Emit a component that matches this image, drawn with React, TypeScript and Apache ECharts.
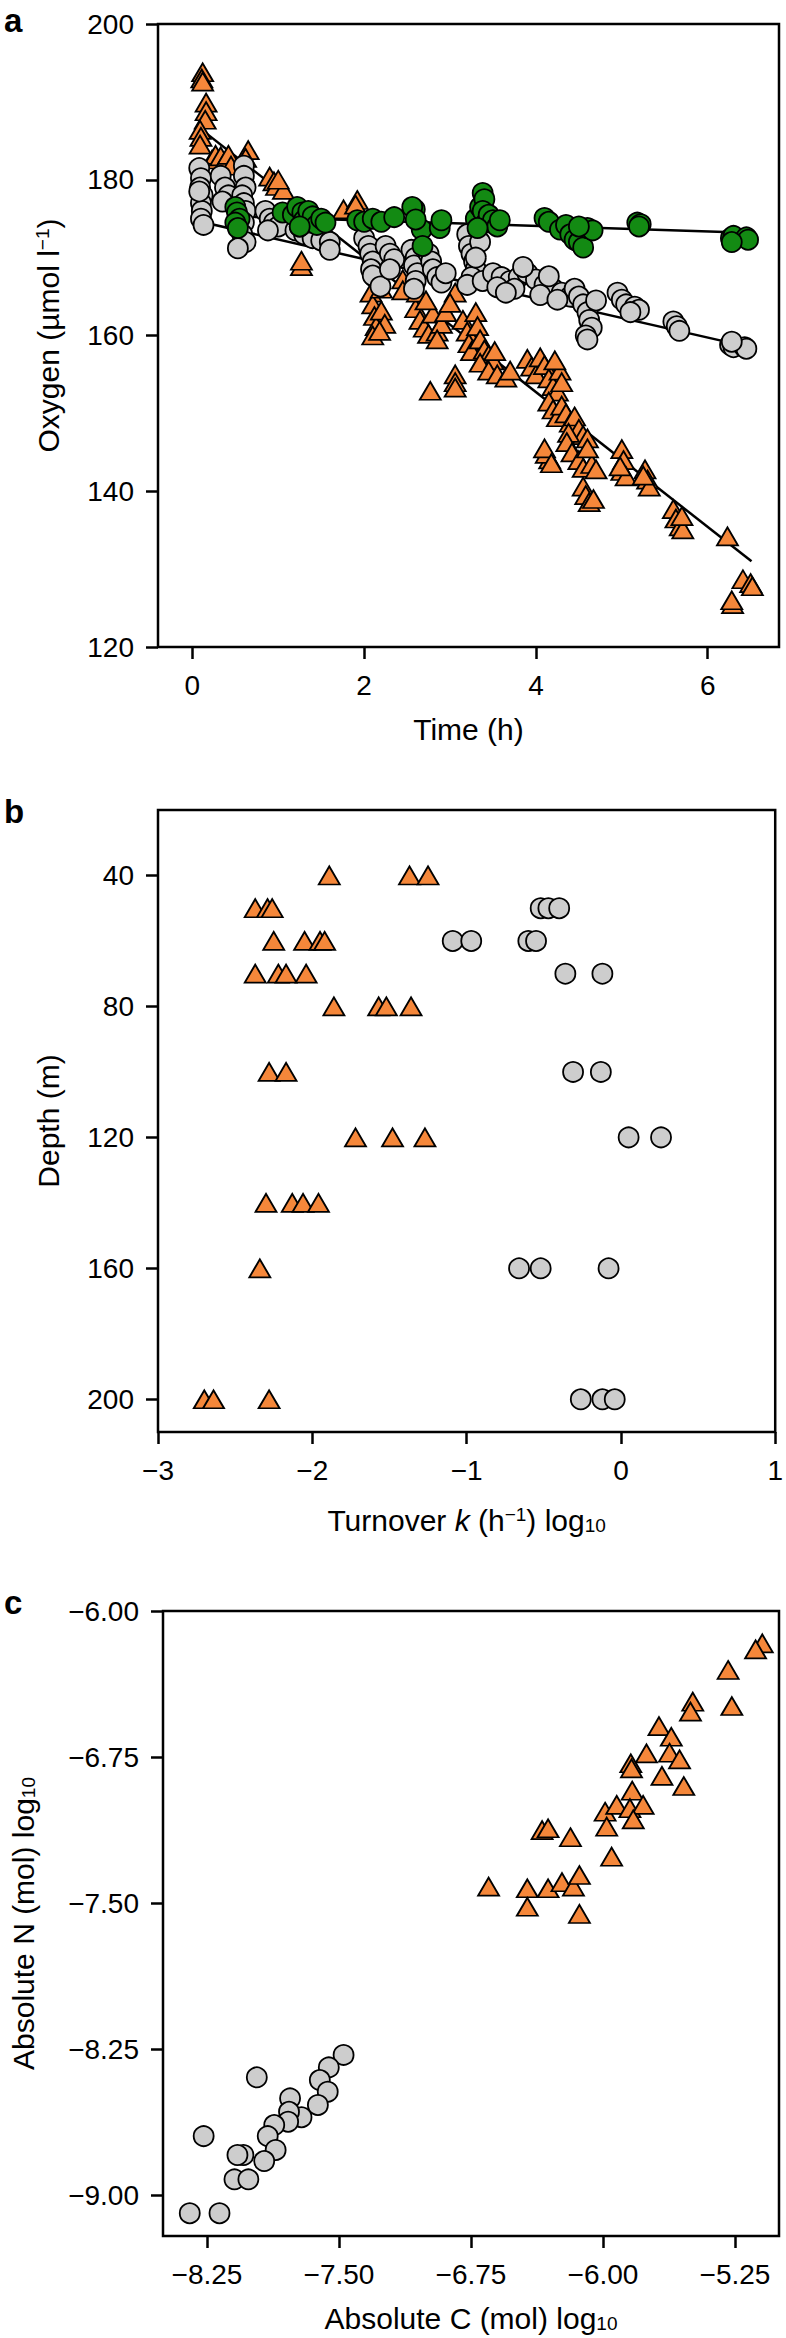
import React, { useEffect, useRef } from 'react';
import * as echarts from 'echarts';

// ---------- Panel a: oxygen vs time ----------
const timeTicks = [0, 2, 4, 6];
const oxygenTicks = [120, 140, 160, 180, 200];

const oxyOrange = [
  [0.12, 193.8], [0.11, 193.0], [0.12, 192.6], [0.16, 189.9], [0.16, 188.8], [0.15, 187.7], [0.09, 186.4], [0.10, 185.5], [0.09, 184.5],
  [0.23, 182.6], [0.27, 183.2], [0.33, 183.0], [0.37, 182.2], [0.42, 183.2], [0.45, 181.8], [0.65, 183.8], [0.62, 182.8],
  [0.90, 180.4], [0.95, 179.8], [0.98, 179.2], [1.06, 178.7], [1.00, 180.0],
  [1.27, 168.9], [1.27, 169.6],
  [1.76, 176.2], [1.92, 177.4], [1.90, 176.8],
  [2.08, 165.5], [2.10, 164.0], [2.12, 162.5], [2.14, 161.2], [2.10, 160.0], [2.20, 163.2], [2.24, 161.5], [2.18, 160.6], [2.20, 166.0],
  [2.45, 167.2], [2.45, 165.8],
  [2.60, 163.5], [2.65, 162.0], [2.70, 161.0], [2.75, 160.2], [2.80, 162.8], [2.85, 160.5], [2.90, 161.5], [2.62, 165.5], [2.72, 164.5], [2.95, 163.0], [3.06, 165.5], [3.00, 164.2], [2.85, 159.5],
  [3.15, 162.0], [3.20, 160.5], [3.22, 159.0], [3.25, 158.0], [3.30, 163.0], [3.32, 161.2], [3.35, 159.5], [3.40, 158.2], [3.45, 157.5], [3.50, 156.8], [3.52, 158.0],
  [3.35, 156.5], [3.45, 155.5], [3.55, 155.0], [3.65, 154.6], [3.70, 155.5],
  [3.90, 157.0], [3.95, 156.0], [4.00, 155.0], [4.05, 157.2], [4.10, 156.2], [4.15, 154.5], [4.20, 153.5], [4.25, 152.8], [4.28, 155.5], [4.30, 154.0], [4.22, 156.8],
  [2.77, 152.9], [3.06, 155.0], [3.06, 154.0], [3.06, 153.3],
  [4.15, 151.5], [4.20, 150.5], [4.25, 149.5], [4.30, 151.0], [4.35, 150.0], [4.40, 148.8], [4.45, 149.6], [4.50, 148.0], [4.55, 147.2], [4.60, 146.8], [4.38, 147.5],
  [4.16, 144.1], [4.12, 144.8], [4.10, 145.5], [4.18, 143.6],
  [4.36, 146.3], [4.42, 145.0], [4.50, 144.0], [4.55, 143.0], [4.65, 143.5], [4.70, 142.8], [4.60, 145.5],
  [4.55, 140.6], [4.58, 139.5], [4.62, 138.6], [4.67, 139.0],
  [5.00, 145.4], [5.02, 144.0], [5.00, 142.6], [5.05, 141.9], [4.98, 143.2],
  [5.27, 142.8], [5.30, 141.5], [5.32, 140.6], [5.25, 142.0],
  [5.60, 137.7], [5.63, 136.5], [5.68, 135.5], [5.71, 135.1], [5.70, 136.8],
  [6.23, 134.2],
  [6.41, 128.7], [6.50, 128.2], [6.52, 127.8],
  [6.29, 125.5], [6.28, 126.0],
];

const oxyGrey = [
  [0.08, 181.5], [0.10, 180.2], [0.09, 179.0], [0.12, 178.0], [0.10, 177.0], [0.11, 176.0], [0.10, 175.0], [0.13, 174.2], [0.08, 178.5],
  [0.33, 180.5], [0.38, 179.0], [0.42, 178.0], [0.35, 177.2],
  [0.60, 181.8], [0.60, 180.5], [0.62, 179.0], [0.58, 178.0], [0.60, 177.0], [0.62, 176.0], [0.60, 174.5], [0.58, 173.0], [0.62, 172.0], [0.53, 171.2],
  [0.85, 176.0], [0.90, 175.0], [0.95, 174.5], [1.00, 174.0], [0.88, 173.5],
  [1.20, 173.5], [1.30, 173.0], [1.40, 172.5], [1.50, 172.2], [1.60, 172.0], [1.35, 174.5], [1.25, 174.0], [1.60, 171.0],
  [2.00, 172.5], [2.05, 171.5], [2.07, 170.5], [2.10, 169.5], [2.08, 168.5], [2.12, 167.5], [2.10, 167.7], [2.19, 166.3],
  [2.25, 171.5], [2.30, 170.5], [2.35, 169.8], [2.30, 168.5],
  [2.55, 171.0], [2.60, 170.0], [2.58, 169.0], [2.62, 168.0], [2.60, 167.0], [2.58, 166.0],
  [2.75, 170.5], [2.78, 169.5], [2.80, 168.5], [2.85, 167.5], [2.90, 166.8], [2.95, 168.0],
  [3.20, 173.0], [3.22, 171.5], [3.25, 170.5], [3.28, 169.5], [3.30, 168.5], [3.25, 167.5], [3.20, 166.5], [3.35, 172.0], [3.30, 170.0], [3.38, 167.0],
  [3.50, 168.0], [3.60, 167.5], [3.70, 167.0], [3.80, 167.5], [3.90, 168.0], [4.00, 167.2], [4.10, 166.5], [4.20, 166.0], [4.30, 165.5], [4.40, 165.0],
  [3.55, 166.2], [3.75, 166.0], [4.05, 165.2], [4.25, 164.6], [3.65, 165.5], [3.85, 168.8], [4.15, 167.6],
  [4.45, 166.0], [4.50, 165.0], [4.55, 164.0], [4.60, 163.0], [4.62, 162.0], [4.65, 161.0], [4.58, 160.0], [4.60, 159.5], [4.70, 164.5],
  [4.95, 165.5], [5.00, 164.6], [5.05, 164.0], [5.15, 163.7], [5.20, 163.3], [5.10, 163.0],
  [5.60, 161.8], [5.64, 161.2], [5.67, 160.6],
  [6.26, 158.8], [6.30, 158.5], [6.43, 158.5], [6.45, 158.3], [6.28, 159.2],
];

const oxyGreen = [
  [0.50, 176.5], [0.52, 175.8], [0.55, 175.0], [0.50, 174.5], [0.53, 173.8],
  [1.05, 175.8], [1.17, 175.5], [1.22, 176.5], [1.28, 175.8], [1.30, 174.8], [1.35, 176.0], [1.40, 175.3], [1.45, 174.2], [1.50, 175.0], [1.55, 174.5], [1.25, 174.0],
  [1.92, 174.8], [2.00, 174.6], [2.10, 175.0], [2.20, 174.6], [2.35, 175.2], [2.59, 176.2], [2.56, 176.5], [2.67, 173.6], [2.68, 171.5], [2.60, 174.9], [2.88, 173.8], [2.90, 174.8],
  [3.30, 175.0], [3.35, 176.5], [3.38, 178.3], [3.40, 177.5], [3.38, 176.0], [3.42, 174.5], [3.45, 175.5], [3.50, 174.8], [3.55, 174.0], [3.58, 174.8], [3.32, 173.8],
  [4.10, 175.1], [4.15, 174.6], [4.28, 173.6], [4.35, 174.2], [4.40, 173.0], [4.45, 172.3], [4.50, 172.0], [4.55, 171.3], [4.60, 173.8], [4.66, 173.5], [4.50, 174.0],
  [5.18, 174.5], [5.22, 174.3], [5.20, 174.0],
  [6.27, 172.5], [6.30, 172.8], [6.45, 172.6], [6.47, 172.3], [6.28, 172.0],
];

const fitOrange = [[0.1, 186.5], [6.51, 131.0]];
const fitGrey = [[0.1, 174.6], [6.45, 158.6]];
const fitGreen = [[0.5, 175.3], [6.47, 173.2]];

// ---------- Panel b: turnover vs depth ----------
const turnoverTicks = [-3, -2, -1, 0, 1];
const depthTicks = [40, 80, 120, 160, 200];

const turnoverOrange = [
  [-1.89, 40], [-1.37, 40], [-1.25, 40],
  [-2.37, 50], [-2.29, 50], [-2.26, 50],
  [-2.25, 60], [-2.05, 60], [-1.95, 60], [-1.92, 60],
  [-2.37, 70], [-2.22, 70], [-2.17, 70], [-2.04, 70],
  [-1.86, 80], [-1.57, 80], [-1.52, 80], [-1.36, 80],
  [-2.28, 100], [-2.17, 100],
  [-1.72, 120], [-1.48, 120], [-1.27, 120],
  [-2.30, 140], [-2.13, 140], [-2.06, 140], [-1.96, 140],
  [-2.34, 160],
  [-2.70, 200], [-2.64, 200], [-2.28, 200],
];

const turnoverGrey = [
  [-0.52, 50], [-0.47, 50], [-0.40, 50],
  [-1.09, 60], [-0.97, 60], [-0.60, 60], [-0.55, 60],
  [-0.36, 70], [-0.12, 70],
  [-0.31, 100], [-0.13, 100],
  [0.05, 120], [0.26, 120],
  [-0.66, 160], [-0.52, 160], [-0.08, 160],
  [-0.26, 200], [-0.12, 200], [-0.04, 200],
];

// ---------- Panel c: absolute C vs absolute N ----------
const absCTicks = [-8.25, -7.5, -6.75, -6.0, -5.25];
const absNTicks = [-9.0, -8.25, -7.5, -6.75, -6.0];

const absOrange = [
  [-5.095, -6.166], [-5.133, -6.197], [-5.289, -6.303], [-5.268, -6.488],
  [-5.490, -6.466], [-5.503, -6.517], [-5.682, -6.591], [-5.612, -6.646],
  [-5.753, -6.731], [-5.622, -6.728], [-5.565, -6.762], [-5.842, -6.782],
  [-5.838, -6.808], [-5.665, -6.847], [-5.541, -6.899], [-5.834, -6.923],
  [-5.988, -7.031], [-5.922, -6.996], [-5.847, -7.013], [-5.772, -6.996],
  [-5.828, -7.070], [-5.979, -7.108], [-5.951, -7.262],
  [-6.346, -7.125], [-6.312, -7.116], [-6.185, -7.162],
  [-6.650, -7.416], [-6.430, -7.424], [-6.430, -7.519], [-6.312, -7.424],
  [-6.233, -7.393], [-6.168, -7.416], [-6.134, -7.356], [-6.134, -7.556],
];

const absGrey = [
  [-7.474, -8.280], [-7.558, -8.344], [-7.609, -8.409], [-7.564, -8.469],
  [-7.967, -8.395], [-7.778, -8.503], [-7.620, -8.537], [-7.713, -8.600],
  [-7.784, -8.572], [-7.789, -8.623], [-7.868, -8.640], [-7.905, -8.697],
  [-8.269, -8.697], [-7.860, -8.768], [-8.043, -8.794], [-8.077, -8.794],
  [-7.925, -8.825], [-8.094, -8.919], [-8.015, -8.919],
  [-8.348, -9.093], [-8.179, -9.093],
];

const ORANGE = '#F5873A';
const GREY = '#CDCDCD';
const GREEN = '#138A13';
const FONT = '"Liberation Sans", Arial, Helvetica, sans-serif';
const TICK_FONT = 28;
const TITLE_FONT = 30;

const fmtInt = (v: number) => String(v).replace('-', '\u2212');
const fmt2 = (v: number) => v.toFixed(2).replace('-', '\u2212');

const richText = {
  sup: { fontSize: 19, verticalAlign: 'top', lineHeight: 14, fontFamily: FONT, color: '#000' },
  sub: { fontSize: 19, verticalAlign: 'bottom', lineHeight: 14, fontFamily: FONT, color: '#000' },
  it: { fontSize: TITLE_FONT, fontStyle: 'italic', fontFamily: FONT, color: '#000' },
};

function axisCommon(ticks: number[], fmt: (v: number) => string) {
  return {
    type: 'value',
    axisLine: { show: false, onZero: false },
    axisTick: { show: true, inside: false, length: 12, lineStyle: { color: '#000', width: 2.5 }, customValues: ticks },
    axisLabel: { customValues: ticks, fontSize: TICK_FONT, color: '#000', fontFamily: FONT, formatter: fmt, margin: 24 },
    splitLine: { show: false },
    nameLocation: 'middle',
    nameTextStyle: { fontSize: TITLE_FONT, color: '#000', fontFamily: FONT, rich: richText },
  };
}

function scatter(data: number[][], kind: 'tri' | 'circ', color: string, xi: number) {
  return {
    type: 'scatter',
    xAxisIndex: xi,
    yAxisIndex: xi,
    data,
    symbol: kind === 'tri' ? 'triangle' : 'circle',
    symbolSize: kind === 'tri' ? [21, 18] : 20,
    itemStyle: { color, borderColor: '#000', borderWidth: 1.8, opacity: 1 },
    z: 3,
    silent: true,
  };
}

function fitLine(data: number[][]) {
  return {
    type: 'line',
    xAxisIndex: 0,
    yAxisIndex: 0,
    data,
    showSymbol: false,
    symbol: 'none',
    lineStyle: { color: '#000', width: 2.5 },
    z: 2,
    silent: true,
  };
}

export default function App() {
  const ref = useRef<HTMLDivElement>(null);
  useEffect(() => {
    document.body.style.margin = '0';
    if (!ref.current) return;
    const chart = echarts.init(ref.current, undefined, { renderer: 'svg' });
    const gridStyle = { show: true, borderColor: '#000', borderWidth: 2.5, backgroundColor: 'transparent' };
    const letter = (t: string, y: number) => ({
      type: 'text', x: 4, y,
      style: { text: t, font: `bold 33px ${FONT}`, fill: '#000', verticalAlign: 'top' },
    });
    chart.setOption({
      animation: false,
      backgroundColor: '#fff',
      textStyle: { fontFamily: FONT },
      grid: [
        { ...gridStyle, left: 158, top: 24, width: 621, height: 623 },
        { ...gridStyle, left: 158, top: 810, width: 621, height: 622 },
        { ...gridStyle, left: 158, top: 1611, width: 621, height: 625 },
      ],
      xAxis: [
        { ...axisCommon(timeTicks, fmtInt), gridIndex: 0, min: -0.4, max: 6.83, name: 'Time (h)', nameGap: 67 },
        { ...axisCommon(turnoverTicks, fmtInt), gridIndex: 1, min: -3, max: 1, name: 'Turnover {it|k} (h{sup|\u22121}) log{sub|10}', nameGap: 73 },
        { ...axisCommon(absCTicks, fmt2), gridIndex: 2, min: -8.5, max: -5.0, name: 'Absolute C (mol) log{sub|10}', nameGap: 67 },
      ],
      yAxis: [
        { ...axisCommon(oxygenTicks, fmtInt), gridIndex: 0, min: 120, max: 200, name: 'Oxygen (\u00B5mol l{sup|\u22121})', nameGap: 95 },
        { ...axisCommon(depthTicks, fmtInt), gridIndex: 1, min: 20, max: 210, inverse: true, name: 'Depth (m)', nameGap: 95 },
        { ...axisCommon(absNTicks, fmt2), gridIndex: 2, min: -9.21, max: -6.0, name: 'Absolute N (mol) log{sub|10}', nameGap: 125 },
      ],
      graphic: [letter('a', 4), letter('b', 795), letter('c', 1586)],
      series: [
        fitLine(fitOrange),
        fitLine(fitGrey),
        fitLine(fitGreen),
        scatter(oxyOrange, 'tri', ORANGE, 0),
        scatter(oxyGrey, 'circ', GREY, 0),
        scatter(oxyGreen, 'circ', GREEN, 0),
        scatter(turnoverOrange, 'tri', ORANGE, 1),
        scatter(turnoverGrey, 'circ', GREY, 1),
        scatter(absOrange, 'tri', ORANGE, 2),
        scatter(absGrey, 'circ', GREY, 2),
      ],
    });
    return () => chart.dispose();
  }, []);
  return <div ref={ref} style={{ width: 786, height: 2338, position: 'absolute', left: 0, top: 0 }} />;
}
